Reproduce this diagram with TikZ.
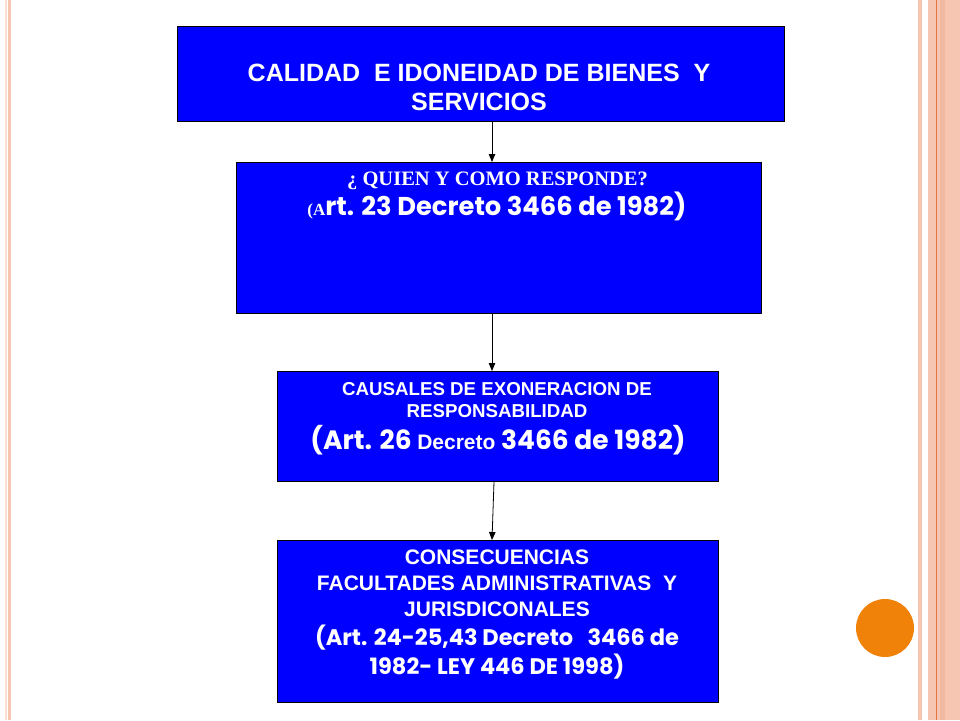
\documentclass[tikz,border=0pt]{standalone}
\usepackage{fontspec}
\setmainfont{Liberation Sans}
\newfontfamily\timesf{Liberation Serif}
\newfontfamily\gothf{Poppins}
\usetikzlibrary{arrows.meta}
\definecolor{salmon}{RGB}{246,198,178}
\definecolor{palepink}{RGB}{250,222,210}
\definecolor{darksalmon}{RGB}{240,185,160}
\definecolor{stripeline}{RGB}{226,120,70}
\definecolor{boxblue}{RGB}{0,0,255}
\definecolor{dotorange}{RGB}{240,130,10}
\tikzset{
  bluebox/.style={draw=black, line width=0.8pt, fill=boxblue, inner sep=0pt, anchor=north west},
  boxtext/.style={text=white, inner sep=0pt, anchor=base},
  link/.style={draw=black, line width=0.8pt, -{Triangle[length=8pt,width=6.5pt]}}
}
\begin{document}
\begin{tikzpicture}[x=1pt,y=-1pt]
\useasboundingbox (0,0) rectangle (960,720);
\fill[white] (0,0) rectangle (960,720);
% left stripes
\fill[palepink] (5,0) rectangle (6.5,720);
\fill[salmon] (8,0) rectangle (11,720);
% right stripes
\fill[salmon] (918,0) rectangle (922,720);
\fill[salmon] (928,0) rectangle (960,720);
\fill[darksalmon] (940,0) rectangle (945,720);
\draw[stripeline, line width=1pt] (936,0) -- (936,720);
% orange dot
\fill[dotorange] (885,628) circle (29);

% boxes
\node[bluebox, minimum width=607pt, minimum height=95pt] (b1) at (177,26) {};
\node[bluebox, minimum width=525pt, minimum height=151pt] (b2) at (236,162) {};
\node[bluebox, minimum width=441pt, minimum height=110pt] (b3) at (277,371) {};
\node[bluebox, minimum width=441pt, minimum height=162pt] (b4) at (277,540) {};

% box 1 text
\node[boxtext, font=\bfseries\fontsize{25}{29}\selectfont] (t1a) at (479,81) {CALIDAD\ \ E IDONEIDAD DE BIENES\ \ Y};
\node[boxtext, font=\bfseries\fontsize{25}{29}\selectfont] (t1b) at (479,110) {SERVICIOS};
% box 2 text
\node[boxtext, font=\timesf\bfseries\fontsize{20.5}{24}\selectfont] (t2a) at (497.5,185) {¿ QUIEN Y COMO RESPONDE?};
\node[boxtext] (t2b) at (497,215)
  {\timesf\bfseries\fontsize{17}{20}\selectfont (A\gothf\bfseries\fontsize{25.8}{30}\selectfont rt. 23 Decreto 3466 de 1982)};
% box 3 text
\node[boxtext, font=\bfseries\fontsize{18.7}{22}\selectfont] (t3a) at (497,395) {CAUSALES DE EXONERACION DE};
\node[boxtext, font=\bfseries\fontsize{18.7}{22}\selectfont] (t3b) at (497,417) {RESPONSABILIDAD};
\node[boxtext] (t3c) at (498,449)
  {\gothf\bfseries\fontsize{26.5}{30}\selectfont (Art. 26 \rmfamily\bfseries\fontsize{21}{24}\selectfont Decreto\gothf\bfseries\fontsize{26.5}{30}\selectfont\ 3466 de 1982)};
% box 4 text
\node[boxtext, font=\bfseries\fontsize{21}{26}\selectfont] (t4a) at (497,564) {CONSECUENCIAS};
\node[boxtext, font=\bfseries\fontsize{21}{26}\selectfont] (t4b) at (497,590) {FACULTADES ADMINISTRATIVAS\ \ Y};
\node[boxtext, font=\bfseries\fontsize{21}{26}\selectfont] (t4c) at (497,616) {JURISDICONALES};
\node[boxtext, font=\gothf\bfseries\fontsize{22.5}{28}\selectfont] (t4d) at (497,645) {(Art. 24-25,43 Decreto\ \ \ 3466 de};
\node[boxtext, font=\gothf\bfseries\fontsize{22.5}{28}\selectfont] (t4e) at (497,674) {1982- LEY 446 DE 1998)};

% connectors
\draw[link] (b1.south -| 492,0) -- (b2.north -| 492,0);
\draw[link] (b2.south -| 492,0) -- (b3.north -| 492,0);
\draw[link] (b3.south -| 494,0) -- (b4.north -| 492,0);
\end{tikzpicture}
\end{document}
